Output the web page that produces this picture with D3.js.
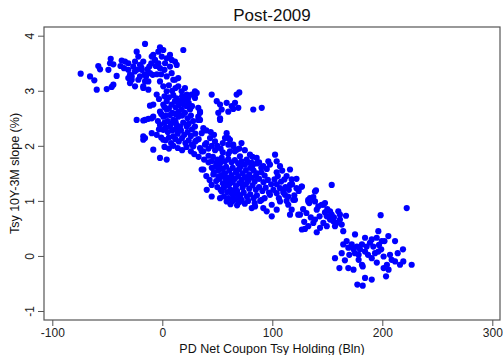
<!DOCTYPE html>
<html>
<head>
<meta charset="utf-8">
<script src="https://cdnjs.cloudflare.com/ajax/libs/d3/7.8.5/d3.min.js"></script>
<style>
body { margin: 0; background: white; }
text { font-family: "Liberation Sans", Arial, sans-serif; }
</style>
</head>
<body>
<script>
// [holding (Bln), slope (%)], cluster by cluster
var topLeft = [[-74.2,3.31],[-65.7,3.26],[-61.8,3.19],[-59.6,3.02],[-58.2,3.45],[-56.6,3.39],[-50.5,3.03],[-46,3.07],[-44.5,3.11],[-49,3.38],[-46.9,3.58],[-47.5,3.50],[-44.5,3.48],[-41.5,3.27],[-36.9,3.55],[-33.9,3.53],[-34.8,3.41],[-30.9,3.38],[-30.9,3.50],[-29.4,3.29],[-27.8,3.20],[-26.4,3.44],[-24.8,3.53],[-23.3,3.71],[-21.8,3.62],[-20.3,3.47],[-27.8,3.26],[-24.8,3.08],[-23.3,3.38],[-18.7,3.38],[-17.3,3.53],[-15.7,3.85],[-14.8,3.26],[-13.6,3.39],[-11.8,3.44],[-11.2,3.32],[-9.6,3.62],[-8.2,3.65],[-6.6,3.56],[-8.7,3.29],[-12.7,3.17],[-17.3,3.08],[-15.7,3.17],[-21.8,3.2],[-20.3,3.26],[-3.6,3.71],[-2.1,3.79],[0.9,3.74],[-0.5,3.62],[-3.6,3.50],[-2.1,3.41],[2.5,3.5],[4,3.59],[7,3.65],[8.5,3.56],[11.5,3.53],[13.1,3.47],[4,3.26],[-2.1,3.17],[0.9,3.08],[4,2.99],[7,3.44],[8.5,3.32],[10,3.2],[11.5,3.2],[14.5,3.23],[19.1,3.74],[-12.7,3.02],[-17.3,3.05],[-29.4,3.14],[-30.9,3.23],[-38,3.45],[-25,3.35],[-19,3.42],[-16,3.30],[-6,3.45],[-1,3.30],[2,3.38],[-10,3.5],[-5,3.3],[6,3.1],[12,3.05],[9,3.0]];

var mainBlob = [[14.5,3.08],[17.6,2.99],[20.6,3.05],[22.2,2.93],[23.6,2.87],[26.7,2.93],[29.7,2.99],[20.6,2.84],[16.1,2.81],[11.5,2.81],[8.5,2.75],[4,2.81],[0.9,2.75],[-5.1,2.93],[-8.2,2.75],[-11.2,2.73],[-23.3,2.47],[-15.7,2.47],[-9.6,2.50],[-2.1,2.62],[0.9,2.53],[4,2.66],[7,2.56],[10,2.47],[14.5,2.53],[17.6,2.66],[20.6,2.60],[25.2,2.66],[32.7,2.69],[34.3,2.6],[32.7,2.47],[29.7,2.35],[22.2,2.35],[16.1,2.35],[7,2.35],[0.9,2.29],[-2.1,2.38],[-5.1,2.2],[-17.3,2.17],[10,2.17],[-3,2.85],[2,2.9],[6,2.88],[10,2.92],[13,2.86],[18,2.9],[24,2.78],[27,2.72],[2,2.70],[6,2.68],[12,2.70],[15,2.74],[19,2.76],[22,2.72],[-1,2.58],[3,2.55],[9,2.60],[12,2.58],[15,2.62],[18,2.55],[23,2.50],[26,2.55],[28,2.45],[-4,2.45],[2,2.42],[5,2.45],[8,2.40],[12,2.44],[13,2.38],[19,2.42],[24,2.40],[27,2.30],[-3,2.30],[3,2.33],[5,2.25],[9,2.28],[12,2.30],[14,2.22],[17,2.28],[20,2.20],[23,2.25],[26,2.18],[30,2.22],[-1,2.15],[3,2.10],[6,2.15],[8,2.05],[12,2.12],[15,2.08],[18,2.14],[21,2.05],[24,2.10],[27,2.02],[30,2.08],[33,2.12],[2,1.98],[6,1.95],[10,2.00],[14,1.96],[18,1.92],[22,1.98],[26,1.90],[-8.2,1.93],[-2.1,1.78],[4,1.75],[-15.7,2.14],[-17.3,2.11],[-9.6,2.23],[-17.3,2.46],[-12.7,2.49],[-8.2,2.53],[0.9,2.11]];

var upperRight = [[44.9,2.93],[49.5,2.81],[52.5,2.75],[54,2.66],[50.9,2.6],[52.5,2.5],[60,2.62],[63.1,2.72],[66.1,2.78],[67.6,2.93],[70,2.97],[58.5,2.78],[64.5,2.67],[69.1,2.69],[82.7,2.66],[90.4,2.69],[34.3,2.62],[32.7,2.53],[34.3,2.47],[31.3,2.96],[29.7,2.87]];

var band = [[52.5,2.47],[37.3,2.32],[35.8,2.23],[43.4,2.14],[47.9,2.08],[38.8,2.02],[58.5,2.23],[57,2.14],[61.5,2.11],[60,2.02],[64.5,1.99],[35.8,1.90],[37.3,1.57],[49.5,1.69],[52.5,1.60],[46.4,1.48],[50.9,1.44],[44.9,1.29],[40.4,1.20],[44.9,1.08],[52.5,1.05],[58.5,0.99],[54,1.17],[58.5,1.29],[63.1,1.14],[64.5,1.05],[69.1,1.11],[72.2,1.02],[67.6,1.02],[81.3,0.87],[84.3,0.9],[91.8,0.87],[94.9,0.81],[99.5,0.93],[99.5,0.72],[104,0.84],[107,0.99],[114.5,0.93],[116.1,0.75],[123.6,0.75],[117.6,0.84],[90.4,1.02],[97.9,1.11],[28.2,1.99],[34.3,1.96],[37.3,1.9],[60,2.14],[64.5,2.02],[61.5,1.90],[67.6,1.93],[70.6,1.81],[76.7,1.75],[81.3,1.69],[85.8,1.78],[91.8,1.63],[96.4,1.72],[35.8,1.57],[40,2.05],[42,1.95],[45,2.0],[48,1.92],[50,2.0],[53,1.95],[55,2.05],[44,2.25],[47,2.2],[40,2.28],[31,2.1],[29,1.85],[33,1.80],[38,1.75],[42,1.82],[45,1.72],[55,1.88],[60,1.85],[66,1.9],[70,1.95],[75,1.92],[72,2.05]];

var midBlob = [[79.7,1.84],[82,1.80],[88,1.70],[90,1.60],[97.9,1.66],[95,1.58],[102.5,1.84],[104,1.72],[107,1.63],[109,1.55],[104,1.52],[116.1,1.57],[117.6,1.39],[113,1.45],[111,1.39],[102,1.39],[104,1.30],[101,1.20],[46,1.80],[50,1.75],[54,1.78],[57,1.72],[60,1.76],[63,1.70],[66,1.74],[69,1.68],[72,1.72],[75,1.66],[78,1.70],[82,1.64],[86,1.68],[48,1.62],[52,1.66],[55,1.58],[58,1.62],[61,1.55],[64,1.60],[67,1.52],[70,1.58],[73,1.50],[76,1.56],[79,1.48],[83,1.55],[86,1.50],[90,1.52],[93,1.46],[47,1.52],[51,1.55],[54,1.47],[57,1.50],[60,1.42],[63,1.47],[66,1.40],[69,1.45],[72,1.38],[75,1.43],[78,1.36],[81,1.42],[84,1.35],[88,1.40],[92,1.34],[96,1.38],[99,1.30],[49,1.36],[52,1.40],[55,1.32],[58,1.36],[61,1.30],[64,1.34],[67,1.27],[70,1.32],[73,1.24],[76,1.30],[79,1.22],[82,1.28],[85,1.20],[88,1.25],[91,1.18],[94,1.24],[97,1.15],[50,1.25],[53,1.20],[56,1.24],[59,1.16],[62,1.20],[65,1.12],[68,1.18],[71,1.10],[74,1.15],[77,1.08],[80,1.12],[83,1.05],[86,1.10],[89,1.00],[93,1.05],[56,1.08],[60,1.05],[64,1.00],[70,0.98],[75,0.95],[78,1.00],[84,0.96],[62,0.94],[68,0.92],[57,1.42],[63,1.38],[68,1.55],[71,1.62],[74,1.30],[80,1.60],[85,1.45],[59,1.28],[66,1.20],[77,1.40],[53,1.70],[45,1.60],[42,1.70],[40,1.45],[43,1.38],[105,1.45],[108,1.35],[112,1.25],[110,1.15],[115,1.20],[118,1.30],[120,1.10],[124,1.18],[122,1.40],[106,1.05],[113,1.00],[119,1.02],[126.7,1.26],[122,1.23],[120.6,1.02],[114.5,1.08],[116.1,1.29],[110,1.2],[111.5,1.11],[107,1.23],[104,1.14]];

var lowerMid = [[126.9,1.26],[154,1.29],[139.7,1.19],[137.3,1.07],[132.7,1.02],[133.6,0.96],[138.8,0.99],[141.8,0.90],[144.9,0.93],[147.9,0.96],[140.4,0.84],[147.9,0.79],[149.5,0.72],[152.5,0.81],[154,0.75],[152.5,0.66],[155.5,0.63],[160,0.81],[161.5,0.75],[167,0.73],[158.5,0.6],[163.1,0.57],[161.5,0.66],[157,0.54],[164.5,0.45],[149.5,0.54],[146.4,0.6],[143.4,0.51],[140.4,0.43],[138.8,0.66],[137.3,0.6],[132.7,0.54],[129.7,0.49],[126.9,0.48],[125.2,0.75],[134.3,1.05],[138.8,1.17],[132.7,0.99],[146.4,0.93],[128,0.85],[131,0.78],[135,0.70],[129,0.62],[143,0.72],[150,0.85],[156,0.70]];

var bottomRight = [[198.5,0.74],[222.2,0.87],[196.4,0.45],[175.2,0.39],[184.3,0.33],[190.4,0.30],[194.9,0.33],[199.5,0.27],[205.5,0.36],[211.6,0.27],[167.6,0.27],[164.5,0.21],[169.1,0.15],[172.2,0.21],[173.8,0.12],[176.9,0.17],[179.7,0.12],[181.5,0.21],[184.3,0.08],[185.8,0.17],[188.8,0.24],[191.8,0.17],[193.4,0.05],[196.4,0.08],[178.5,0.02],[175.2,0.05],[163.1,0.05],[157,-0.04],[178.5,-0.07],[181.5,-0.16],[190.4,-0.04],[207,0.02],[208.5,-0.07],[211.6,-0.1],[216.1,-0.16],[219.1,-0.1],[226.7,-0.16],[201.2,-0.22],[205.7,-0.25],[204.2,-0.16],[161,-0.22],[169.1,-0.22],[173.8,-0.25],[182.2,-0.19],[184.3,-0.40],[190.4,-0.43],[203.4,-0.37],[177.3,-0.52],[182.2,-0.54],[218.8,0.12],[201.2,-0.01],[202,0.27],[197,0.20],[187,0.02],[170,0.02],[166,-0.08],[195,-0.12],[199,0.12],[214,0.05]];

var xTicks = [-100, 0, 100, 200, 300];
var yTicks = [-1, 0, 1, 2, 3, 4];

var data = topLeft.concat(mainBlob, upperRight, band, midBlob, lowerMid, bottomRight);

var width = 503;
var height = 355;
var box = {left: 44, right: 500, top: 27, bottom: 320};

var x = d3.scaleLinear()
	.domain([-100, 300])
	.range([52.3, 492.3]);

var y = d3.scaleLinear()
	.domain([-1, 4])
	.range([311, 35.7]);

var svg = d3.select("body")
	.append("svg")
		.attr("width", width)
		.attr("height", height);

svg.append("rect")
	.attr("x", 0)
	.attr("y", 0)
	.attr("width", width)
	.attr("height", height)
	.attr("fill", "white");

// points
svg.append("g")
	.selectAll("circle")
	.data(data)
	.enter()
	.append("circle")
		.attr("cx", (d) => { return x(d[0]); })
		.attr("cy", (d) => { return y(d[1]); })
		.attr("r", 3.1)
		.attr("fill", "#0000ff");

// frame
svg.append("rect")
	.attr("x", box.left)
	.attr("y", box.top)
	.attr("width", box.right - box.left)
	.attr("height", box.bottom - box.top)
	.attr("fill", "none")
	.attr("stroke", "#555")
	.attr("stroke-width", 1.2);

var bottomAxis = d3.axisBottom(x)
	.tickValues(xTicks)
	.tickFormat(d3.format("d"))
	.tickSize(6)
	.tickPadding(2);

var gx = svg.append("g")
	.attr("transform", "translate(0, " + box.bottom + ")")
	.call(bottomAxis);
gx.select(".domain").remove();
gx.selectAll("line").attr("stroke", "#555");
gx.selectAll("text")
	.text((d) => { return String(d); })
	.attr("font-size", "12px")
	.attr("fill", "#222")
	.style("font-family", "'Liberation Sans', Arial, sans-serif");

var leftAxis = d3.axisLeft(y)
	.tickValues(yTicks)
	.tickFormat((d) => { return String(d); })
	.tickSize(6);

var gy = svg.append("g")
	.attr("transform", "translate(" + box.left + ", 0)")
	.call(leftAxis);
gy.select(".domain").remove();
gy.selectAll("line").attr("stroke", "#555");
gy.selectAll("text")
	.attr("x", null)
	.attr("dy", null)
	.attr("font-size", "12px")
	.attr("fill", "#222")
	.attr("text-anchor", "middle")
	.attr("transform", "translate(-10, 0) rotate(-90)")
	.style("font-family", "'Liberation Sans', Arial, sans-serif");

svg.append("text")
	.attr("x", (box.left + box.right) / 2)
	.attr("y", 21)
	.attr("font-size", "17px")
	.attr("text-anchor", "middle")
	.attr("fill", "#111")
	.text("Post-2009");

svg.append("text")
	.attr("x", (box.left + box.right) / 2)
	.attr("y", 353)
	.attr("font-size", "12.5px")
	.attr("text-anchor", "middle")
	.attr("fill", "#111")
	.text("PD Net Coupon Tsy Holding (Bln)");

svg.append("text")
	.attr("x", -((box.top + box.bottom) / 2))
	.attr("y", 19)
	.attr("font-size", "12.5px")
	.attr("text-anchor", "middle")
	.attr("transform", "rotate(-90)")
	.attr("fill", "#111")
	.text("Tsy 10Y-3M slope (%)");
</script>
</body>
</html>
